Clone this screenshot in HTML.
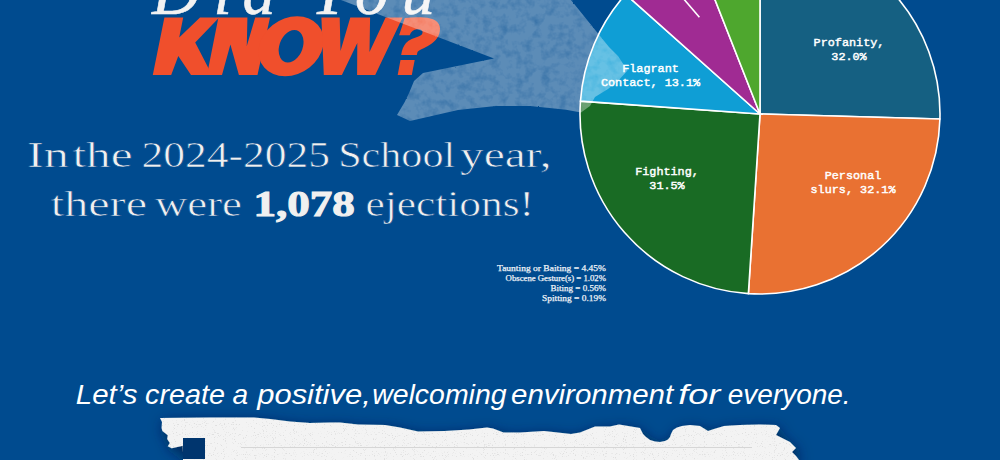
<!DOCTYPE html>
<html><head><meta charset="utf-8">
<style>
html,body{margin:0;padding:0;}
body{width:1000px;height:460px;overflow:hidden;background:#004b8f;position:relative;font-family:"Liberation Sans",sans-serif;}
svg{position:absolute;left:0;top:0;}
</style></head>
<body>
<svg width="1000" height="460" viewBox="0 0 1000 460">
  <defs>
    <filter id="shadow" x="-20%" y="-50%" width="140%" height="200%">
      <feDropShadow dx="2" dy="4" stdDeviation="7" flood-color="#001a40" flood-opacity="0.75"/>
    </filter>
    <filter id="brush" x="-5%" y="-5%" width="110%" height="110%">
      <feTurbulence type="fractalNoise" baseFrequency="0.6" numOctaves="2" seed="3" result="n"/>
      <feDisplacementMap in="SourceGraphic" in2="n" scale="1.8" xChannelSelector="R" yChannelSelector="G" result="d"/>
      <feTurbulence type="fractalNoise" baseFrequency="0.12" numOctaves="3" seed="11" result="n2"/>
      <feColorMatrix in="n2" type="matrix" values="0 0 0 0 1  0 0 0 0 1  0 0 0 0 1  0 0 0 0.7 0.6" result="a"/>
      <feComposite in="d" in2="a" operator="in"/>
    </filter>
    <filter id="speck" x="0" y="0" width="100%" height="100%">
      <feTurbulence type="fractalNoise" baseFrequency="0.9" numOctaves="1" seed="5"/>
      <feColorMatrix type="matrix" values="0 0 0 0 0.6  0 0 0 0 0.6  0 0 0 0 0.6  0 0 0 9 -5.6"/>
    </filter>
    <clipPath id="paperclip"><path d="M160,418 L210,417.6 L254,417.6 L270,419 L290,421.6 L310,423 L330,422.4 L340,422.6 L358,424.4 L385,425 L400,427.4 L418,431.6 L445,431 L469,429.5 L487,427.4 L493,428.6 L503.5,432.5 L520,432.5 L544,431 L571,434 L580,432.5 L595,426.5 L610,426.5 L619,424.4 L640,428 L641.5,431 L643,434 L646,437 L650,440 L655,441.5 L660,442 L665,441 L668,439.5 L670,437 L671,434 L673,430 L677,427.5 L682,426 L690,425 L700,426 L708,431 L714,429 L724,426 L740,425 L760,424.4 L776,425 L780,428 L776,435 L780,437 L790,442 L796,448 L792,452 L796,456 L799,460 L183,460 L183,452 L182.8,445.7 L171.7,448.3 L167.8,446.3 L169.8,443 L167.2,439 L167.8,435.2 L162.4,431 L161.6,428 L162,422 Z"/></clipPath>
  </defs>
  <!-- Did You -->
  <text x="152 213.5 242.6 0 310.5 355 401.8" y="13.5" font-family="Liberation Serif" font-style="italic" font-size="66" stroke="#f2f2f2" stroke-width="0.6" fill="#f2f2f2">Did You</text>
  <!-- KNOW? -->
  <g fill="#f04f2c">
    <path d="M164.4,17.6 L183.2,17.6 L179.2,37.6 L200,17.6 L219.2,17.6 L195.2,42.5 L212,74.9 L191,74.9 L178.3,56 L171.2,74.9 L152.8,74.9 Z"/>
    <path d="M218.4,17.6 L247.4,17.6 L246.8,46 L255.2,17.6 L270,17.6 L257.5,74.9 L238.9,74.9 L230.4,44.4 L222,74.9 L207,74.9 Z"/>
    <g transform="translate(291.7,46.2) skewX(-11.3)"><path fill-rule="evenodd" d="M-32,0 A32,30 0 1,0 32,0 A32,30 0 1,0 -32,0 Z M-12,0 A12,16.3 0 1,1 12,0 A12,16.3 0 1,1 -12,0 Z" transform="translate(-0.6,0)"/></g>
    <path d="M321.4,17.6 L339.7,17.6 L340.5,51 L350.3,17.6 L370.1,17.6 L369.5,52 L385.6,17.6 L402.6,17.6 L375.2,74.9 L357.1,74.9 L357.3,43 L341.9,74.9 L323.8,74.9 Z"/>
    <path d="M399.1,35.2 L404.8,18 C411,17.3 418,17.2 424,17.5 C433,18 440,21.5 440,28.5 C440,36 436,41 429.5,45 C424,48.5 419,50 417.5,52 L416.8,55 L401.2,55 C401.8,50 403.5,46 406,43 C409,39.5 414,38 418.5,36.5 C421.5,35.5 423,33.5 422.5,31.5 C422,29.5 419.5,29 417,29.2 C413.5,29.5 411,31.5 409.7,35.2 Z"/>
    <path d="M400.5,60 L414.7,60 L411.8,74.9 L397.7,74.9 Z"/>
  </g>

  <!-- main text -->
  <g font-family="Liberation Serif" font-size="35" fill="#f0f0f0">
    <text x="27.0" y="167" stroke="#004b8f" stroke-width="0.6" textLength="42.0" lengthAdjust="spacingAndGlyphs">In</text>
    <text x="72.4" y="167" stroke="#004b8f" stroke-width="0.6" textLength="60.2" lengthAdjust="spacingAndGlyphs">the</text>
    <text x="141.4" y="167" stroke="#004b8f" stroke-width="0.6" textLength="188.6" lengthAdjust="spacingAndGlyphs">2024-2025</text>
    <text x="338.2" y="167" stroke="#004b8f" stroke-width="0.6" textLength="117.0" lengthAdjust="spacingAndGlyphs">School</text>
    <text x="460.0" y="167" stroke="#004b8f" stroke-width="0.6" textLength="91.6" lengthAdjust="spacingAndGlyphs">year,</text>
    <text x="50.8" y="216" stroke="#004b8f" stroke-width="0.6" textLength="96.2" lengthAdjust="spacingAndGlyphs">there</text>
    <text x="155.0" y="216" stroke="#004b8f" stroke-width="0.6" textLength="87.0" lengthAdjust="spacingAndGlyphs">were</text>
    <text x="253.4" y="216" font-weight="bold" stroke="#f0f0f0" stroke-width="1" textLength="101.4" lengthAdjust="spacingAndGlyphs">1,078</text>
    <text x="365.4" y="216" stroke="#004b8f" stroke-width="0.6" textLength="168.6" lengthAdjust="spacingAndGlyphs">ejections!</text>
  </g>

  <!-- pie -->
  <g id="pie" stroke="#ffffff" stroke-width="1.6" stroke-linejoin="round">
<path d="M760,114 L760.00,-66.00 A180,180 0 0 1 939.93,119.03 Z" fill="#156082"/>
<path d="M760,114 L939.93,119.03 A180,180 0 0 1 748.38,293.62 Z" fill="#E97132"/>
<path d="M760,114 L748.38,293.62 A180,180 0 0 1 580.46,101.13 Z" fill="#196B24"/>
<path d="M760,114 L580.46,101.13 A180,180 0 0 1 625.61,-5.74 Z" fill="#0F9ED5"/>
<path d="M760,114 L625.61,-5.74 A180,180 0 0 1 694.03,-53.48 Z" fill="#A02B93"/>
<path d="M760,114 L694.03,-53.48 A180,180 0 0 1 760.00,-66.00 Z" fill="#4EA72E"/>
<line x1="699.4" y1="17.2" x2="670" y2="-17"/>
</g>
<g font-family="Liberation Mono" font-size="11.8" fill="#ffffff" stroke="#ffffff" stroke-width="0.45" text-anchor="middle">
<text x="849" y="46">Profanity,</text><text x="849" y="60">32.0%</text>
<text x="853" y="179">Personal</text><text x="853" y="193">slurs, 32.1%</text>
<text x="667" y="174.5">Fighting,</text><text x="667" y="188.5">31.5%</text>
<text x="650.5" y="72.4">Flagrant</text><text x="650.5" y="86.4">Contact, 13.1%</text>
</g>

  <!-- legend -->
  <g font-family="Liberation Serif" font-size="8.6" fill="#eef2f7" stroke="#eef2f7" stroke-width="0.25" lengthAdjust="spacingAndGlyphs">
    <text x="497" y="271" textLength="109" lengthAdjust="spacingAndGlyphs">Taunting or Baiting = 4.45%</text>
    <text x="505.6" y="281" textLength="100.4" lengthAdjust="spacingAndGlyphs">Obscene Gesture(s) = 1.02%</text>
    <text x="550.6" y="291" textLength="55.4" lengthAdjust="spacingAndGlyphs">Biting = 0.56%</text>
    <text x="542" y="301" textLength="64" lengthAdjust="spacingAndGlyphs">Spitting = 0.19%</text>
  </g>

  <!-- brush overlay -->
  <path d="M335,-2 L341,0 L494,58.5 L423,73 L414,81 L409.5,92 L404.7,102 L397,115 L410,121 L458,110 L496,106 L530,106 L566,109.7 L581,112.5 L590,106 L595,97 L608,89 L618,81 L627.5,70.5 L618,56 L609,47 L596,31 L571,0 L569,-3 Z" fill="#ffffff" fill-opacity="0.36" filter="url(#brush)"/>

  <!-- handwriting -->
  <g font-family="Liberation Sans" font-style="italic" font-size="28" fill="#ffffff">
    <text x="75.8" y="404" textLength="61.6" lengthAdjust="spacingAndGlyphs">Let’s</text>
    <text x="145.0" y="404" textLength="80.0" lengthAdjust="spacingAndGlyphs">create</text>
    <text x="232.6" y="404" textLength="15.6" lengthAdjust="spacingAndGlyphs">a</text>
    <text x="257.2" y="404" textLength="113.6" lengthAdjust="spacingAndGlyphs">positive,</text>
    <text x="372.2" y="404" textLength="134.4" lengthAdjust="spacingAndGlyphs">welcoming</text>
    <text x="511.0" y="404" textLength="162.2" lengthAdjust="spacingAndGlyphs">environment</text>
    <text x="678.2" y="404" textLength="42.2" lengthAdjust="spacingAndGlyphs">for</text>
    <text x="727.8" y="404" textLength="122.8" lengthAdjust="spacingAndGlyphs">everyone.</text>
  </g>

  <!-- paper -->
  <path filter="url(#shadow)" d="M160,418 L210,417.6 L254,417.6 L270,419 L290,421.6 L310,423 L330,422.4 L340,422.6 L358,424.4 L385,425 L400,427.4 L418,431.6 L445,431 L469,429.5 L487,427.4 L493,428.6 L503.5,432.5 L520,432.5 L544,431 L571,434 L580,432.5 L595,426.5 L610,426.5 L619,424.4 L640,428 L641.5,431 L643,434 L646,437 L650,440 L655,441.5 L660,442 L665,441 L668,439.5 L670,437 L671,434 L673,430 L677,427.5 L682,426 L690,425 L700,426 L708,431 L714,429 L724,426 L740,425 L760,424.4 L776,425 L780,428 L776,435 L780,437 L790,442 L796,448 L792,452 L796,456 L799,460 L183,460 L183,452 L182.8,445.7 L171.7,448.3 L167.8,446.3 L169.8,443 L167.2,439 L167.8,435.2 L162.4,431 L161.6,428 L162,422 Z" fill="#f3f3f3"/>
  <rect x="150" y="410" width="660" height="50" filter="url(#speck)" clip-path="url(#paperclip)" opacity="0.5"/>
  <rect x="183" y="438" width="22" height="21" fill="#00356e"/>
  <line x1="241" y1="447.5" x2="752" y2="447.5" stroke="#d6d6d6" stroke-width="1.2"/>
</svg>
<script>
</script>
</body></html>
